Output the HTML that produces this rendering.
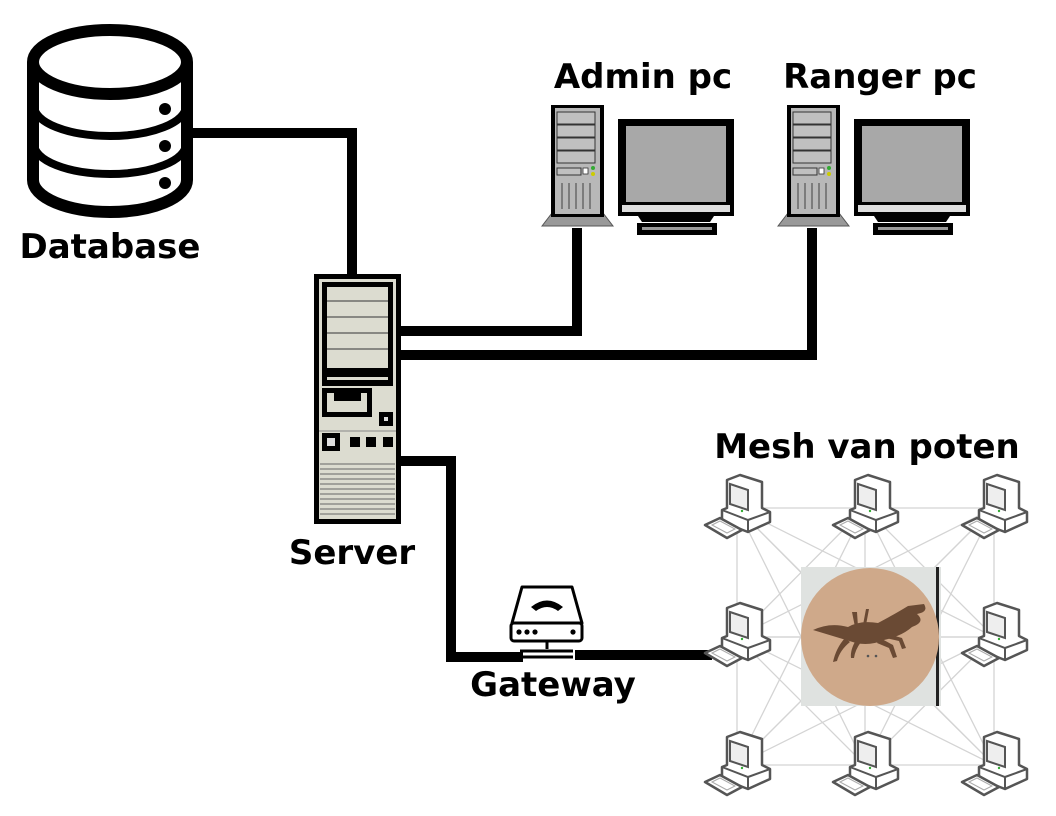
<!DOCTYPE html>
<html><head><meta charset="utf-8"><style>
html,body{margin:0;padding:0;background:#fff}
svg{display:block}
text{font-family:"DejaVu Sans","Liberation Sans",sans-serif;font-weight:bold;fill:#000}
</style></head><body>
<svg width="1056" height="816" viewBox="0 0 1056 816" xmlns="http://www.w3.org/2000/svg">
<defs>
<g id="pc">
  <path d="M27 10 L40 5 L62 12 L62 38 L70 42 L70 52 L48 62 L22 52 L22 40 L27 38 Z" fill="#fff" stroke="#555" stroke-width="2.5" stroke-linejoin="round"/>
  <path d="M30 14 L48 20 L48 40 L30 34 Z" fill="#eee" stroke="#555" stroke-width="2"/>
  <path d="M22 40 L48 50 L70 42" fill="none" stroke="#555" stroke-width="2"/>
  <path d="M48 50 L48 62" stroke="#555" stroke-width="2"/>
  <circle cx="42" cy="41" r="1.2" fill="#3a3"/>
  <path d="M5 55 L20 48 L42 60 L27 68 Z" fill="#fff" stroke="#555" stroke-width="2.5" stroke-linejoin="round"/>
  <path d="M12 55 L20 51 L35 59 L27 63 Z" fill="none" stroke="#aaa" stroke-width="1"/>
</g>
<g id="desk">
  <path d="M0 125 L10 112 L61 112 L71 125 Z" fill="#999" stroke="#555" stroke-width="1"/>
  <rect x="9" y="4" width="53" height="112" fill="#000"/>
  <rect x="13" y="7" width="45" height="106" fill="#b8b8b8"/>
  <rect x="15" y="11" width="38" height="12" fill="#c0c0c0" stroke="#333" stroke-width="1"/>
  <rect x="15" y="24" width="38" height="12" fill="#c0c0c0" stroke="#333" stroke-width="1"/>
  <rect x="15" y="37" width="38" height="12" fill="#c0c0c0" stroke="#333" stroke-width="1"/>
  <rect x="15" y="50" width="38" height="12" fill="#c0c0c0" stroke="#333" stroke-width="1"/>
  <rect x="15" y="67" width="24" height="7" fill="#c0c0c0" stroke="#333" stroke-width="1"/>
  <rect x="41" y="67" width="5" height="6" fill="#fff" stroke="#333" stroke-width="0.8"/>
  <circle cx="51" cy="67" r="2" fill="#3a3"/><circle cx="51" cy="73" r="2" fill="#cc0"/>
  <path d="M20 82V108M27 82V108M34 82V108M41 82V108M48 82V108" stroke="#555" stroke-width="1.2"/>
  <rect x="76" y="18" width="116" height="97" fill="#000"/>
  <rect x="84" y="25" width="100" height="76" fill="#a8a8a8"/>
  <rect x="80" y="104" width="108" height="7" fill="#ddd"/>
  <path d="M96 115 L172 115 L168 121 L100 121 Z" fill="#000"/>
  <rect x="95" y="122" width="80" height="12" fill="#000"/>
  <rect x="100" y="126" width="70" height="3" fill="#999"/>
</g>
</defs>

<g fill="none" stroke="#000" stroke-width="10">
  <path d="M190 133 H352 V278"/>
  <path d="M398 331 H577 V228"/>
  <path d="M398 355 H812 V228"/>
  <path d="M398 461 H451 V657 H523"/>
  <path d="M575 655 H712"/>
</g>

<g fill="none" stroke="#000" stroke-width="12">
  <path d="M33 62 V180 A77 32 0 0 0 187 180 V62"/>
  <ellipse cx="110" cy="62" rx="77" ry="32" fill="#fff"/>
  <path d="M34 106 A76 30 0 0 0 186 106" stroke-width="8"/>
  <path d="M34 144 A76 30 0 0 0 186 144" stroke-width="8"/>
</g>
<circle cx="165" cy="109" r="6"/><circle cx="165" cy="146" r="6"/><circle cx="165" cy="183" r="6"/>
<text x="110" y="258" font-size="34" text-anchor="middle">Database</text>

<rect x="314" y="274" width="87" height="250" fill="#000"/>
<rect x="319" y="279" width="77" height="240" fill="#dcdcd0"/>
<rect x="322" y="282" width="71" height="104" fill="#000"/>
<rect x="327" y="287" width="61" height="81" fill="#dcdcd0"/>
<path d="M327 301H388M327 317H388M327 333H388M327 349H388" stroke="#555" stroke-width="1.2"/>
<rect x="327" y="377" width="61" height="3" fill="#dcdcd0"/>
<rect x="322" y="388" width="50" height="29" fill="#000"/>
<rect x="327" y="393" width="40" height="19" fill="#dcdcd0"/>
<rect x="334" y="393" width="27" height="8" fill="#000"/>
<rect x="379" y="412" width="14" height="14" fill="#000"/><rect x="384" y="417" width="4" height="4" fill="#ddd"/>
<path d="M319 431H396" stroke="#888" stroke-width="1"/>
<rect x="322" y="433" width="18" height="18" fill="#000"/><rect x="327" y="438" width="8" height="8" fill="#ddd"/>
<rect x="350" y="437" width="10" height="10" fill="#000"/><rect x="366" y="437" width="10" height="10" fill="#000"/><rect x="383" y="437" width="10" height="10" fill="#000"/>
<path d="M320 464H395M320 469H395M320 474H395M320 479H395M320 484H395M320 489H395M320 494H395M320 499H395M320 504H395M320 509H395M320 514H395" stroke="#666" stroke-width="1"/>
<text x="352" y="564" font-size="34" text-anchor="middle">Server</text>

<use href="#desk" x="542" y="101"/>
<use href="#desk" x="778" y="101"/>
<text x="643" y="88" font-size="34" text-anchor="middle">Admin pc</text>
<text x="880" y="88" font-size="34" text-anchor="middle">Ranger pc</text>

<path d="M522 587 L572 587 L582 623 L512 623 Z" fill="#fff" stroke="#000" stroke-width="3" stroke-linejoin="round"/>
<rect x="511" y="623" width="71" height="18" rx="3" fill="#fff" stroke="#000" stroke-width="3"/>
<path d="M531 607 Q547 594 563 607 L558 611 Q547 603 536 611 Z" fill="#000"/>
<circle cx="519" cy="632" r="2.6"/><circle cx="527" cy="632" r="2.6"/><circle cx="535" cy="632" r="2.6"/><circle cx="573" cy="632" r="2.6"/>
<path d="M547 641 V649" stroke="#000" stroke-width="3"/>
<path d="M520 651 H573 M520 657 H573" stroke="#000" stroke-width="3"/>
<text x="553" y="696" font-size="34" text-anchor="middle">Gateway</text>

<text x="867" y="458" font-size="34" text-anchor="middle">Mesh van poten</text>
<g stroke="#d4d4d4" stroke-width="1.3" fill="none">
  <path d="M737 508H994M737 637H994M737 765H994M737 508V765M865 508V765M994 508V765"/>
  <path d="M737 508L865 637L994 765M994 508L865 637L737 765M737 508L994 637M737 508L865 765M737 508L994 765"/>
  <path d="M865 508L737 637M865 508L994 637M865 508L737 765M865 508L994 765"/>
  <path d="M994 508L737 637M994 508L865 765M737 637L865 765M737 637L994 765M994 637L865 765M994 637L737 765"/>
  <path d="M737 637L994 637M737 765L994 508"/>
</g>
<use href="#pc" x="700" y="470"/><use href="#pc" x="828" y="470"/><use href="#pc" x="957" y="470"/>
<use href="#pc" x="700" y="598"/><use href="#pc" x="957" y="598"/>
<use href="#pc" x="700" y="727"/><use href="#pc" x="828" y="727"/><use href="#pc" x="957" y="727"/>

<rect x="801" y="567" width="140" height="139" fill="#dfe2e0"/>
<rect x="936" y="567" width="3" height="139" fill="#222"/>
<circle cx="870" cy="637" r="69" fill="#cfa98a"/>
<g fill="#6a4a34">
  <path d="M813 630 Q830 622 848 627 Q860 620 878 623 Q895 614 908 606 L924 604 Q929 612 917 614 Q926 622 912 627 Q902 636 884 640 Q870 646 856 643 Z"/>
  <path d="M852 612 L855 627 L858 627 L857 612Z M866 609 L863 625 L866 625 L869 609Z"/>
  <path d="M845 638 Q836 648 833 662 L837 661 Q840 650 850 642Z"/>
  <path d="M856 640 Q850 650 851 658 L854 658 Q855 650 861 642Z"/>
  <path d="M880 638 L893 645 L897 657 L893 658 L889 648 L877 643Z"/>
  <path d="M888 634 L902 638 L906 648 L902 649 L899 641 L886 638Z"/>
</g>
<circle cx="868" cy="656" r="1.3" fill="#555"/><circle cx="876" cy="656" r="1.3" fill="#555"/>
</svg>
</body></html>
